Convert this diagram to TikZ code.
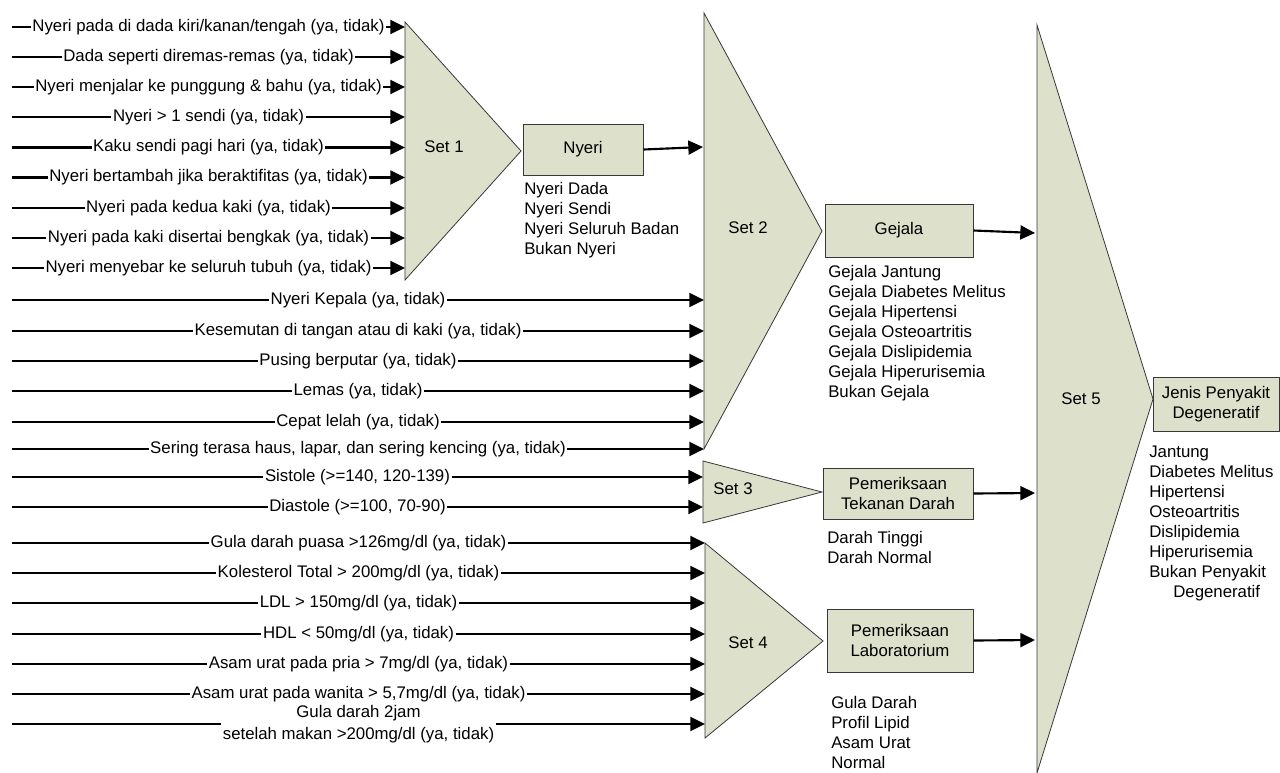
\documentclass[tikz,border=0pt]{standalone}
\usepackage{fontspec}
\setmainfont{Liberation Sans}
\usetikzlibrary{arrows.meta}
\definecolor{setfill}{RGB}{221,225,204}
\definecolor{edgegray}{RGB}{55,55,55}

% one input variable: a labelled arrow from the left margin into a set
\newcommand\feedline[4]{%
  \coordinate (#1-s) at (12,#2);
  \coordinate (#1-e) at (#3,#2);
  \draw[arr] (#1-s) -- node[lbl]{#4} (#1-e);}

\begin{document}
\begin{tikzpicture}[x=0.75pt,y=-0.75pt,
  font=\fontsize{12.6}{15}\selectfont,
  arr/.style={line width=1.6pt,-{Triangle[length=11pt,width=10.5pt]}},
  lbl/.style={fill=white,inner sep=1.2pt},
  setshape/.style={fill=setfill,draw=edgegray,line width=0.6pt,line join=miter},
  box/.style={fill=setfill,draw=edgegray,line width=0.75pt,align=center,inner sep=0pt},
  outlist/.style={anchor=west,align=left,inner sep=0pt}]
\useasboundingbox (0,0) rectangle (1280,772);

% ---- fuzzy sets (triangles) ----
\coordinate (s1t) at (405,22);  \coordinate (s1b) at (405,280); \coordinate (s1a) at (521,151);
\coordinate (s2t) at (704,13);  \coordinate (s2b) at (704,449); \coordinate (s2a) at (822,231);
\coordinate (s3t) at (703,461); \coordinate (s3b) at (703,523); \coordinate (s3a) at (822,492);
\coordinate (s4t) at (705,543); \coordinate (s4b) at (705,738); \coordinate (s4a) at (823,641);
\coordinate (s5t) at (1037,25); \coordinate (s5b) at (1037,773); \coordinate (s5a) at (1153,399);
\draw[setshape] (s1t) -- (s1a) -- (s1b) -- cycle;
\draw[setshape] (s2t) -- (s2a) -- (s2b) -- cycle;
\draw[setshape] (s3t) -- (s3a) -- (s3b) -- cycle;
\draw[setshape] (s4t) -- (s4a) -- (s4b) -- cycle;
\draw[setshape] (s5t) -- (s5a) -- (s5b) -- cycle;

\node (set1) at (444,147) {Set 1};
\node (set2) at (748,228) {Set 2};
\node (set3) at (733,489) {Set 3};
\node (set4) at (748,643) {Set 4};
\node (set5) at (1081,399) {Set 5};

% ---- inputs of Set 1 ----
\feedline{a1}{27}{405}{Nyeri pada di dada kiri/kanan/tengah (ya, tidak)}
\feedline{a2}{57}{405}{Dada seperti diremas-remas (ya, tidak)}
\feedline{a3}{87}{405}{Nyeri menjalar ke punggung \& bahu (ya, tidak)}
\feedline{a4}{117}{405}{Nyeri > 1 sendi (ya, tidak)}
\feedline{a5}{147.5}{405}{Kaku sendi pagi hari (ya, tidak)}
\feedline{a6}{177.5}{405}{Nyeri bertambah jika beraktifitas (ya, tidak)}
\feedline{a7}{208}{405}{Nyeri pada kedua kaki (ya, tidak)}
\feedline{a8}{238}{405}{Nyeri pada kaki disertai bengkak (ya, tidak)}
\feedline{a9}{268}{405}{Nyeri menyebar ke seluruh tubuh (ya, tidak)}

% ---- inputs of Set 2 ----
\feedline{b1}{300}{704}{Nyeri Kepala (ya, tidak)}
\feedline{b2}{331}{704}{Kesemutan di tangan atau di kaki (ya, tidak)}
\feedline{b3}{361}{704}{Pusing berputar (ya, tidak)}
\feedline{b4}{391}{704}{Lemas (ya, tidak)}
\feedline{b5}{422}{704}{Cepat lelah (ya, tidak)}
\feedline{b6}{449}{704}{Sering terasa haus, lapar, dan sering kencing (ya, tidak)}

% ---- inputs of Set 3 ----
\feedline{c1}{477}{703}{Sistole (>=140, 120-139)}
\feedline{c2}{507}{703}{Diastole (>=100, 70-90)}

% ---- inputs of Set 4 ----
\feedline{d1}{543}{705}{Gula darah puasa >126mg/dl (ya, tidak)}
\feedline{d2}{573}{705}{Kolesterol Total > 200mg/dl (ya, tidak)}
\feedline{d3}{603}{705}{LDL > 150mg/dl (ya, tidak)}
\feedline{d4}{634}{705}{HDL < 50mg/dl (ya, tidak)}
\feedline{d5}{664}{705}{Asam urat pada pria > 7mg/dl (ya, tidak)}
\feedline{d6}{694}{705}{Asam urat pada wanita > 5,7mg/dl (ya, tidak)}
\coordinate (d7-s) at (12,724);
\coordinate (d7-e) at (705,724);
\draw[arr] (d7-s) -- node[lbl,align=center,font=\fontsize{12.6}{17}\selectfont]
  {Gula darah 2jam\\setelah makan >200mg/dl (ya, tidak)} (d7-e);

% ---- outputs ----
\node[box,minimum width=90pt,minimum height=38.25pt] (nyeri) at (583,149.5) {Nyeri};
\node[box,minimum width=111pt,minimum height=39.75pt] (gejala) at (899,230.5) {Gejala};
\node[box,minimum width=112.5pt,minimum height=38.25pt] (tekanan) at (898,493.5) {Pemeriksaan\\Tekanan Darah};
\node[box,minimum width=109.5pt,minimum height=47.25pt] (lab) at (900,640.5) {Pemeriksaan\\Laboratorium};
\node[box,minimum width=94.5pt,minimum height=40.5pt] (jenis) at (1216,404) {Jenis Penyakit\\Degeneratif};

\coordinate (s2n) at (703,147);
\coordinate (s5g) at (1035,233);
\coordinate (s5t2) at (1035,493);
\coordinate (s5l) at (1035,640);
\draw[arr] (nyeri.east) -- (s2n);
\draw[arr] (gejala.east) -- (s5g);
\draw[arr] (tekanan.east) -- (s5t2);
\draw[arr] (lab.east) -- (s5l);

% ---- linguistic values of each output ----
\node[outlist] (nyerilist) at (524,220) {Nyeri Dada\\Nyeri Sendi\\Nyeri Seluruh Badan\\Bukan Nyeri};
\node[outlist] (gejalalist) at (828,333) {Gejala Jantung\\Gejala Diabetes Melitus\\Gejala Hipertensi\\Gejala Osteoartritis\\Gejala Dislipidemia\\Gejala Hiperurisemia\\Bukan Gejala};
\node[outlist] (darahlist) at (827,547) {Darah Tinggi\\Darah Normal};
\node[outlist] (lablist) at (831,732) {Gula Darah\\Profil Lipid\\Asam Urat\\Normal};
\node[outlist] (jenislist) at (1149,523.5) {Jantung\\Diabetes Melitus\\Hipertensi\\Osteoartritis\\Dislipidemia\\Hiperurisemia\\Bukan Penyakit\\\hspace*{18pt}Degeneratif};
\end{tikzpicture}
\end{document}
